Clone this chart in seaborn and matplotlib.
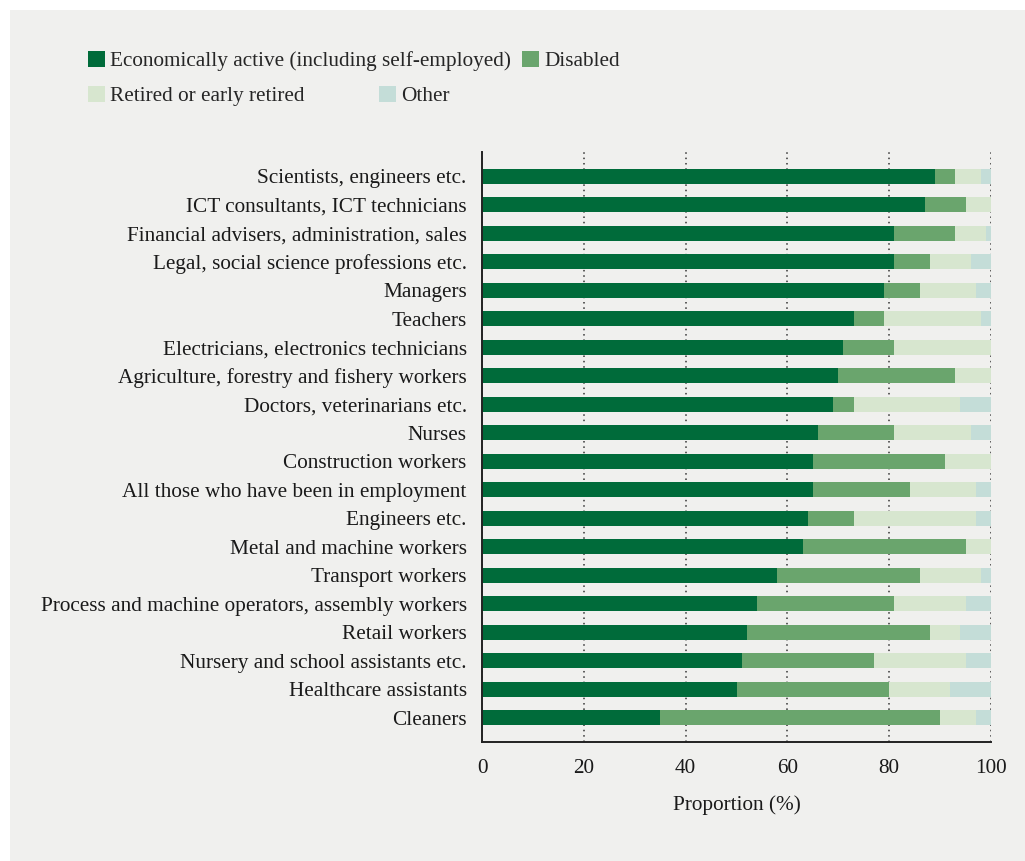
import numpy as np
import pandas as pd
import matplotlib
matplotlib.use("Agg")
import matplotlib.pyplot as plt
from matplotlib.patches import Patch, Rectangle
import seaborn as sns

# data (percent of each group)
occupations = [
    "Scientists, engineers etc.",
    "ICT consultants, ICT technicians",
    "Financial advisers, administration, sales",
    "Legal, social science professions etc.",
    "Managers",
    "Teachers",
    "Electricians, electronics technicians",
    "Agriculture, forestry and fishery workers",
    "Doctors, veterinarians etc.",
    "Nurses",
    "Construction workers",
    "All those who have been in employment",
    "Engineers etc.",
    "Metal and machine workers",
    "Transport workers",
    "Process and machine operators, assembly workers",
    "Retail workers",
    "Nursery and school assistants etc.",
    "Healthcare assistants",
    "Cleaners",
]
active = [89, 87, 81, 81, 79, 73, 71, 70, 69, 66, 65, 65, 64, 63, 58, 54, 52, 51, 50, 35]
disabled = [4, 8, 12, 7, 7, 6, 10, 23, 4, 15, 26, 19, 9, 32, 28, 27, 36, 26, 30, 55]
retired = [5, 5, 6, 8, 11, 19, 19, 7, 21, 15, 9, 13, 24, 5, 12, 14, 6, 18, 12, 7]
other = [2, 0, 1, 4, 3, 2, 0, 0, 6, 4, 0, 3, 3, 0, 2, 5, 6, 5, 8, 3]

series_names = ["Economically active (including self-employed)", "Disabled",
                "Retired or early retired", "Other"]
colors = ["#006b3a", "#6aa56d", "#d7e6cf", "#c4ddd8"]

bg = "#f0f0ee"
fs = 15.3

sns.set_theme(style="white")
plt.rcParams["font.family"] = ["Liberation Serif", "DejaVu Serif"]

df = pd.DataFrame({"occupation": occupations, "a": active, "d": disabled,
                   "r": retired, "o": other})
cum = df[["a", "d", "r", "o"]].cumsum(axis=1)

fig = plt.figure(figsize=(10.25, 8.61), dpi=100)
fig.patch.set_facecolor("white")
fig.patches.append(Rectangle((10 / 1025, 0), 1 - 10 / 1025, 1 - 10 / 861,
                             transform=fig.transFigure, facecolor=bg,
                             edgecolor="none", zorder=-10))
ax = fig.add_axes([482 / 1025, 1 - 742 / 861, 509 / 1025, 590 / 861])
ax.set_facecolor(bg)

# stacked bars: draw cumulative totals from the outermost layer inward
for col, c in zip(["o", "r", "d", "a"], colors[::-1]):
    sns.barplot(x=cum[col], y=df["occupation"], color=c, width=0.53,
                orient="h", ax=ax, linewidth=0, saturation=1, zorder=2)

ax.set_xlim(0, 100)
ax.set_ylim(19.85, -0.85)
ax.set_xticks([0, 20, 40, 60, 80, 100])
ax.xaxis.grid(True, linestyle=(0, (1, 2.5)), color="#333333", linewidth=1.1)
ax.set_axisbelow(True)
for s in ["top", "right"]:
    ax.spines[s].set_visible(False)
for s in ["left", "bottom"]:
    ax.spines[s].set_color("#222222")
    ax.spines[s].set_linewidth(1.4)
ax.tick_params(axis="both", length=0, labelsize=fs, colors="#1a1a1a")
ax.tick_params(axis="y", pad=11)
ax.tick_params(axis="x", pad=12)
ax.set_ylabel("")
ax.set_xlabel("Proportion (%)", fontsize=fs, color="#1a1a1a", labelpad=13)

def handle(c):
    return Patch(facecolor=c, edgecolor="none")

leg_kw = dict(loc="center left", ncol=2, frameon=False, fontsize=fs,
              handlelength=0.8, handleheight=0.8, handletextpad=0.25,
              borderpad=0, borderaxespad=0)
fig.legend([handle(colors[0]), handle(colors[1])], series_names[:2],
           bbox_to_anchor=(88 / 1025, 1 - 61 / 861), columnspacing=0.5,
           **leg_kw)
fig.legend([handle(colors[2]), handle(colors[3])], series_names[2:],
           bbox_to_anchor=(88 / 1025, 1 - 96 / 861), columnspacing=3.5,
           **leg_kw)

fig.savefig("out.png", dpi=100, facecolor="white")
